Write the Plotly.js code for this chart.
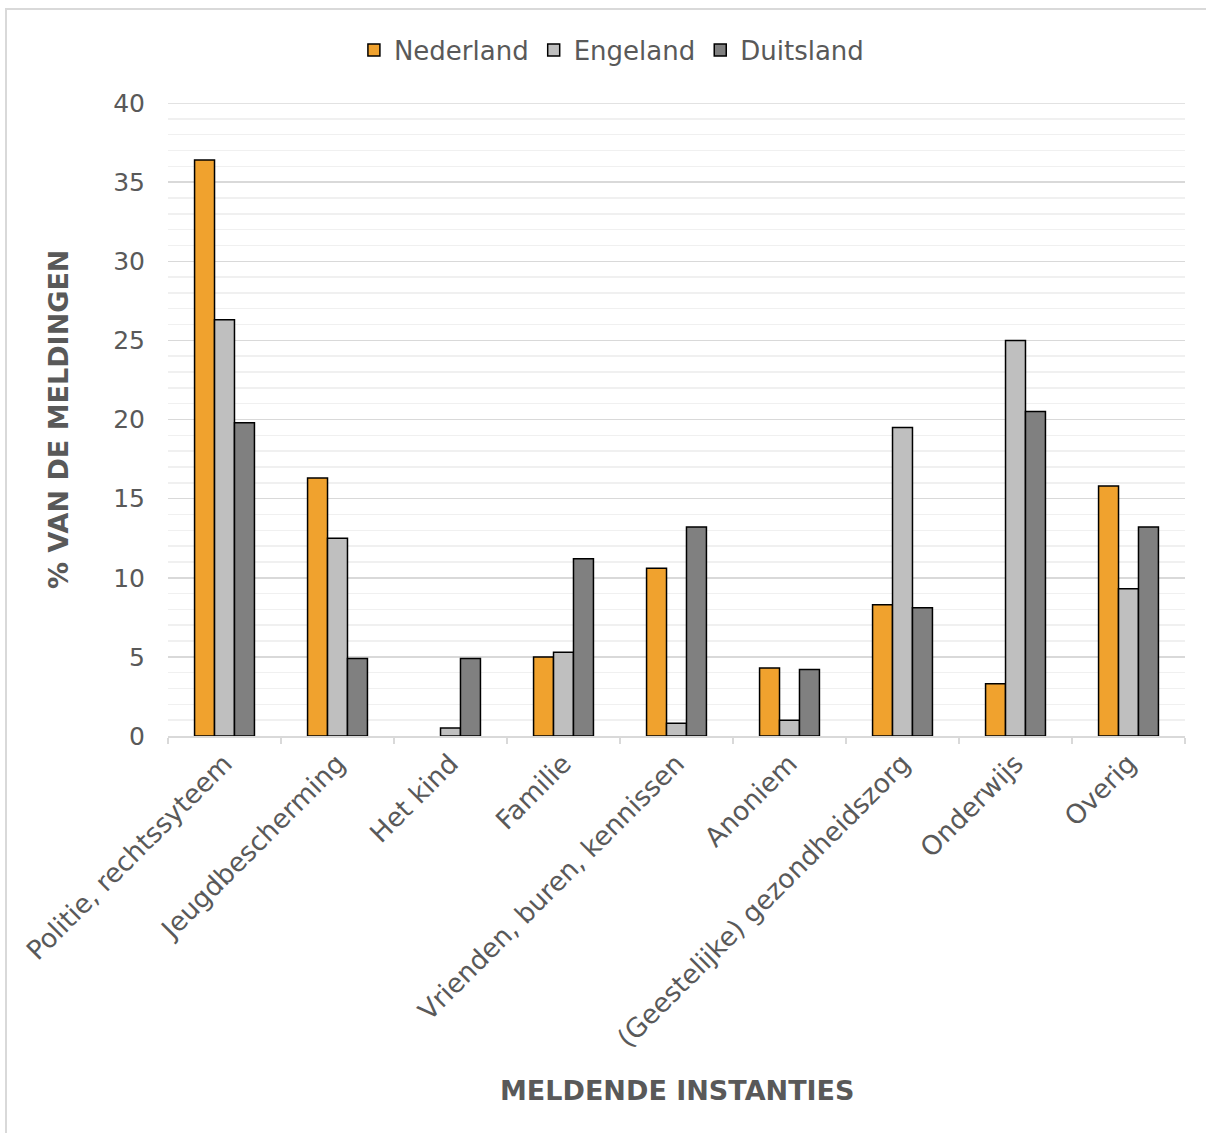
<!DOCTYPE html>
<html>
<head>
<meta charset="utf-8">
<script src="https://cdn.plot.ly/plotly-3.0.1.min.js"></script>
<style>
html,body{margin:0;padding:0;background:#fff;}
#chart{width:1206px;height:1133px;}
</style>
</head>
<body>
<div id="chart"></div>
<script>
const categories = ["Politie, rechtssyteem","Jeugdbescherming","Het kind","Familie","Vrienden, buren, kennissen","Anoniem","(Geestelijke) gezondheidszorg","Onderwijs","Overig"];
const nederland = [36.4, 16.3, 0, 5.0, 10.6, 4.3, 8.3, 3.3, 15.8];
const engeland  = [26.3, 12.5, 0.5, 5.3, 0.8, 1.0, 19.5, 25.0, 9.3];
const duitsland = [19.8, 4.9, 4.9, 11.2, 13.2, 4.2, 8.1, 20.5, 13.2];
const seriesNames = ["Nederland","Engeland","Duitsland"];
const seriesColors = ["#F0A22E","#BFBFBF","#808080"];

const font = "DejaVu Sans, Verdana, sans-serif";
const series = [nederland, engeland, duitsland];
const traces = series.map((vals, i) => ({
  type: "bar",
  name: seriesNames[i],
  x: categories,
  // a zero-height bar is not drawn (no outline on the axis)
  y: vals.map(v => (v === 0 ? null : v)),
  marker: {color: seriesColors[i], line: {color: "#000000", width: 1.5}},
  hoverinfo: "x+y"
}));

const layout = {
  width: 1206, height: 1133,
  paper_bgcolor: "#ffffff", plot_bgcolor: "#ffffff",
  margin: {l: 168, r: 21, t: 103, b: 397, autoexpand: false},
  barmode: "group",
  bargap: 0.47,
  bargroupgap: 0,
  font: {family: font, color: "#595959", size: 25},
  showlegend: true,
  legend: {orientation: "h", x: 0.436, xanchor: "center", y: 1.0837, yanchor: "middle",
           bgcolor: "rgba(0,0,0,0)",
           font: {family: font, size: 26, color: "#595959"}, itemwidth: 30, traceorder: "normal"},
  xaxis: {
    type: "category",
    tickangle: -45,
    ticks: "outside", tickson: "boundaries", ticklen: 6, tickcolor: "#d9d9d9", tickwidth: 1.5,
    showline: true, linecolor: "#d9d9d9", linewidth: 1.5,
    showgrid: false,
    tickfont: {family: font, size: 26.5, color: "#595959"},
    automargin: false
  },
  yaxis: {
    range: [0, 40],
    dtick: 5,
    showgrid: true, gridcolor: "#d9d9d9", gridwidth: 1.5,
    minor: {dtick: 1, showgrid: true, gridcolor: "#f0f0f0", gridwidth: 1.5},
    zeroline: false,
    showline: false,
    ticks: "",
    ticklabelstandoff: 22,
    tickfont: {family: font, size: 25, color: "#595959"},
    automargin: false
  },
  annotations: [
    {text: "<b>% VAN DE MELDINGEN</b>", xref: "paper", yref: "paper",
     x: (58 - 168) / 1017, y: (736 - 420) / 633, textangle: -90, showarrow: false,
     xanchor: "center", yanchor: "middle", font: {family: font, size: 27, color: "#595959"}},
    {text: "<b>MELDENDE INSTANTIES</b>", xref: "paper", yref: "paper",
     x: (677 - 168) / 1017, y: (736 - 1090) / 633, showarrow: false,
     xanchor: "center", yanchor: "middle", font: {family: font, size: 27, color: "#595959"}}
  ],
  shapes: [
    {type: "rect", xref: "paper", yref: "paper",
     x0: (6 - 168) / 1017, x1: 1.2, y0: -1, y1: (736 - 9) / 633,
     line: {color: "#d9d9d9", width: 2}, fillcolor: "rgba(0,0,0,0)", layer: "below"},
    {type: "line", xref: "paper", yref: "y", x0: 0, x1: 1, y0: 40, y1: 40,
     line: {color: "#d9d9d9", width: 1.5}, layer: "below"}
  ]
};

Plotly.newPlot("chart", traces, layout, {displayModeBar: false, staticPlot: true});
</script>
</body>
</html>
